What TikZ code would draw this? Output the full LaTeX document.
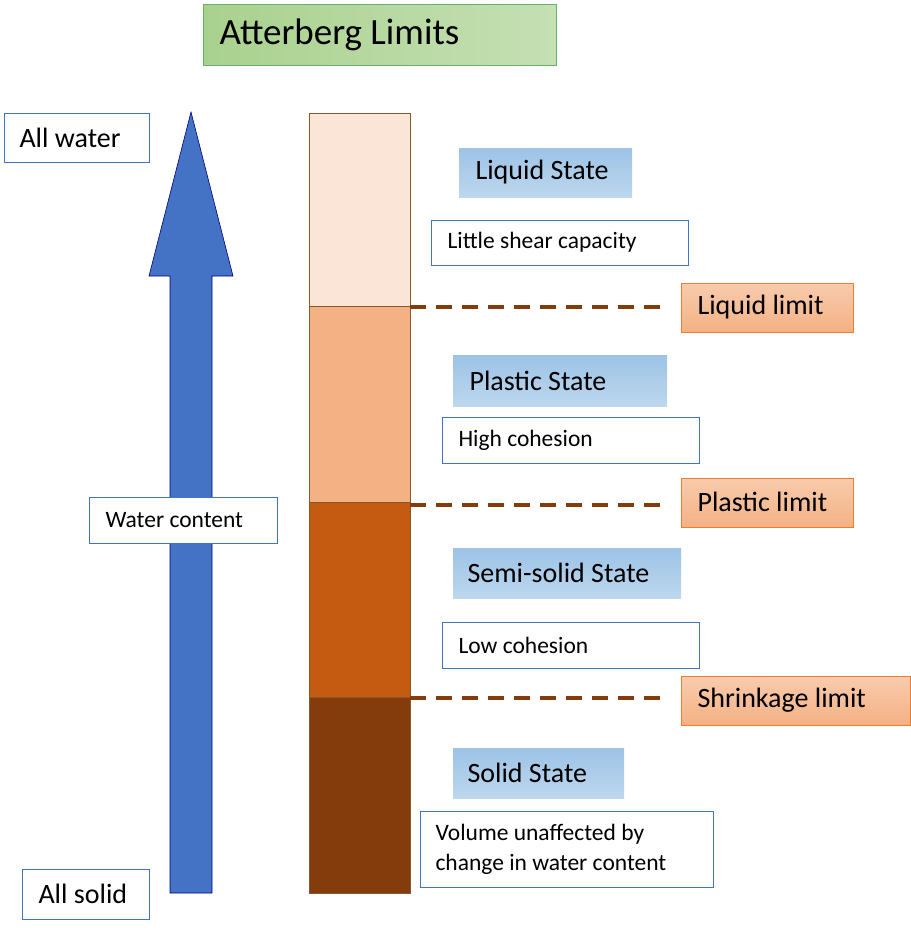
\documentclass[tikz,border=0pt]{standalone}
\usepackage{fontspec}
\setmainfont{Carlito}
\begin{document}
\begin{tikzpicture}[x=1pt,y=-1pt,
 wbox/.style={draw=wb,fill=white,line width=1.2pt,anchor=north west,inner sep=0pt},
 sbox/.style={draw=none,top color={rgb,255:red,157;green,195;blue,230},bottom color={rgb,255:red,189;green,215;blue,238},anchor=north west,inner sep=0pt},
 lbox/.style={draw={rgb,255:red,237;green,125;blue,49},top color={rgb,255:red,248;green,203;blue,173},bottom color={rgb,255:red,244;green,177;blue,131},line width=0.8pt,anchor=north west,inner sep=0pt},
 seg/.style={draw=brown!70!black,line width=1pt},
 big/.style={anchor=west,font=\fontsize{28}{32}\selectfont},
 small/.style={anchor=west,font=\fontsize{23.5}{30}\selectfont},
 lim/.style={draw={rgb,255:red,132;green,60;blue,12},line width=3.5pt,dash pattern=on 16pt off 10pt}]
\definecolor{wb}{RGB}{68,114,196}
\useasboundingbox (0,0) rectangle (911,930);
% title
\node[draw=green!50!black!60,left color={rgb,255:red,169;green,209;blue,142},right color={rgb,255:red,197;green,224;blue,180},minimum width=353pt,minimum height=61pt,anchor=north west,inner sep=0pt] (title) at (203,4) {};
\node[anchor=west,font=\fontsize{37}{40}\selectfont] at (216,35) {Atterberg Limits};
% arrow
\filldraw[fill=wb,draw=blue!50!black,line width=0.6pt] (170,893) -- (212,893) -- (212,276) -- (233,276) -- (191,112) -- (149,276) -- (170,276) -- cycle;
% left boxes
\node[wbox,minimum width=145pt,minimum height=49pt] (aw) at (4,113) {};
\node[big] at (16,138) {All water};
\node[wbox,minimum width=127pt,minimum height=50pt] (as) at (22,869) {};
\node[big] at (35,894) {All solid};
\node[wbox,minimum width=188pt,minimum height=46pt] (wc) at (89,497) {};
\node[small] at (102,520) {Water content};
% column
\filldraw[seg,fill={rgb,255:red,251;green,229;blue,214}] (309,113) rectangle (410,306);
\filldraw[seg,fill={rgb,255:red,244;green,177;blue,131}] (309,306) rectangle (410,502);
\filldraw[seg,fill={rgb,255:red,197;green,90;blue,17}] (309,502) rectangle (410,697);
\filldraw[seg,fill={rgb,255:red,132;green,60;blue,12}] (309,697) rectangle (410,893);
\coordinate (c1) at (410,307); \coordinate (c2) at (410,505); \coordinate (c3) at (410,698);
% limits
\node[lbox,minimum width=172pt,minimum height=49pt] (ll) at (681,283) {};
\node[big] at (694,307) {Liquid limit};
\node[lbox,minimum width=172pt,minimum height=49pt] (pl) at (681,478) {};
\node[big] at (694,502) {Plastic limit};
\node[lbox,minimum width=229pt,minimum height=49pt] (sl) at (681,676) {};
\node[big] at (694,700) {Shrinkage limit};
\draw[lim] (c1) -- (660,307);
\draw[lim] (c2) -- (660,505);
\draw[lim] (c3) -- (660,698);
% states
\node[sbox,minimum width=173pt,minimum height=49pt] (ls) at (459,148) {};
\node[big] at (472,172) {Liquid State};
\node[sbox,minimum width=214pt,minimum height=51pt] (ps) at (453,355) {};
\node[big] at (466,381) {Plastic State};
\node[sbox,minimum width=228pt,minimum height=50pt] (ss) at (453,548) {};
\node[big] at (464,573) {Semi-solid State};
\node[sbox,minimum width=171pt,minimum height=50pt] (so) at (453,748) {};
\node[big] at (464,773) {Solid State};
% descriptions
\node[wbox,minimum width=257pt,minimum height=45pt] (d1) at (431,220) {};
\node[small] at (444,242) {Little shear capacity};
\node[wbox,minimum width=257pt,minimum height=46pt] (d2) at (442,417) {};
\node[small] at (455,440) {High cohesion};
\node[wbox,minimum width=257pt,minimum height=46pt] (d3) at (442,622) {};
\node[small] at (455,645) {Low cohesion};
\node[wbox,minimum width=293pt,minimum height=76pt] (d4) at (420,811) {};
\node[small,align=left] at (432,849) {Volume unaffected by\\change in water content};
\end{tikzpicture}
\end{document}
